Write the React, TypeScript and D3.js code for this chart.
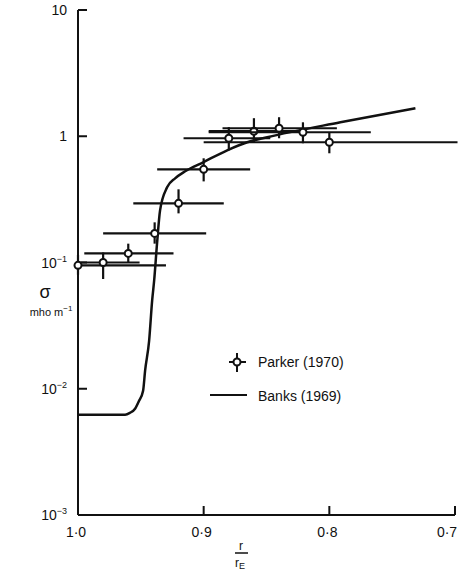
import React from 'react';
import * as d3 from 'd3';

// Parker (1970) measurements: r/rE, sigma, and error bar extents
const parkerR = [1.0, 0.98, 0.96, 0.939, 0.92, 0.9, 0.88, 0.86, 0.84, 0.821, 0.8];
const parkerSigma = [0.095, 0.1, 0.118, 0.17, 0.294, 0.547, 0.964, 1.096, 1.157, 1.076, 0.896];
const parkerSigmaHi = [0.115, 0.12, 0.141, 0.208, 0.38, 0.669, 1.18, 1.39, 1.415, 1.29, 1.076];
const parkerSigmaLo = [0.08, 0.074, 0.1, 0.141, 0.245, 0.439, 0.774, 0.896, 0.964, 0.88, 0.733];
const parkerRHi = [1.0, 0.998, 0.995, 0.98, 0.956, 0.937, 0.916, 0.896, 0.885, 0.896, 0.9];
const parkerRLo = [0.93, 0.951, 0.924, 0.898, 0.884, 0.863, 0.847, 0.823, 0.794, 0.767, 0.698];

// Banks (1969) model curve
const banksR = [1.0, 0.9625, 0.9586, 0.9546, 0.9514, 0.9482, 0.9466, 0.9434, 0.941, 0.9394, 0.9371,
  0.9347, 0.9291, 0.9227, 0.9147, 0.9004, 0.8813, 0.8653, 0.8494, 0.7912, 0.7315];
const banksSigma = [0.00622, 0.00622, 0.00645, 0.00694, 0.00803, 0.00964, 0.0139, 0.024, 0.0499, 0.072, 0.1416,
  0.259, 0.394, 0.464, 0.528, 0.622, 0.774, 0.896, 0.982, 1.29, 1.668];

const yTicks = [10, 1, 0.1, 0.01];
const yLabels = [
  { v: 10, base: '10', exp: '' },
  { v: 1, base: '1', exp: '' },
  { v: 0.1, base: '10', exp: '-1' },
  { v: 0.01, base: '10', exp: '-2' },
  { v: 0.001, base: '10', exp: '-3' },
];
const xTicks = [0.9, 0.8, 0.7];
const xLabels = [
  { v: 1.0, t: '1·0' },
  { v: 0.9, t: '0·9' },
  { v: 0.8, t: '0·8' },
  { v: 0.7, t: '0·7' },
];

const W = 458;
const H = 575;
const font = 'Liberation Sans, DejaVu Sans, sans-serif';
const ink = '#111';

export default function App() {
  const x = d3.scaleLinear().domain([1.0, 0.7]).range([78, 455]);
  const y = d3.scaleLog().domain([0.001, 10]).range([515, 10]);

  const line = d3.line<number>()
    .x((_, i) => x(banksR[i]))
    .y((_, i) => y(banksSigma[i]))
    .curve(d3.curveMonotoneX);

  const x0 = x(1.0);
  const y0 = y(0.001);

  return (
    <svg width={W} height={H} style={{ position: 'absolute', left: 0, top: 0, background: '#fff' }}
      fontFamily={font}>
      {/* axes */}
      <line x1={x0} y1={y(10)} x2={x0} y2={y0} stroke={ink} strokeWidth={2} />
      <line x1={x0} y1={y0} x2={x(0.7)} y2={y0} stroke={ink} strokeWidth={2} />
      {yTicks.map(v => (
        <line key={v} x1={x0} x2={x0 + 9} y1={y(v)} y2={y(v)} stroke={ink} strokeWidth={2} />
      ))}
      {xTicks.map(v => (
        <line key={v} x1={x(v)} x2={x(v)} y1={y0} y2={y0 - 9} stroke={ink} strokeWidth={2} />
      ))}
      {yLabels.map(d => (
        <text key={d.v} x={x0 - 11} y={y(d.v) + 5} textAnchor="end" fontSize={14} fill={ink}>
          {d.base}
          {d.exp && <tspan fontSize={9} dy={-6}>{d.exp.replace('-', '−')}</tspan>}
        </text>
      ))}
      {xLabels.map(d => (
        <text key={d.v} x={x(d.v) - (d.v === 0.7 ? 8 : 2)} y={y0 + 22} textAnchor="middle" fontSize={14} fill={ink}>
          {d.t}
        </text>
      ))}

      {/* axis titles */}
      <text x={45} y={298} textAnchor="middle" fontSize={18} fill={ink}>σ</text>
      <text x={51} y={316} textAnchor="middle" fontSize={11} fill={ink}>
        mho m<tspan fontSize={8} dy={-5}>−1</tspan>
      </text>
      <text x={241} y={550} textAnchor="middle" fontSize={12} fill={ink}>r</text>
      <line x1={235} x2={248} y1={553} y2={553} stroke={ink} strokeWidth={1.5} />
      <text x={240} y={567} textAnchor="middle" fontSize={12} fill={ink}>
        r<tspan fontSize={9} dy={2}>E</tspan>
      </text>

      {/* Banks curve */}
      <path d={line(banksR) ?? ''} fill="none" stroke={ink} strokeWidth={2.5} />

      {/* Parker points */}
      {parkerR.map((r, i) => (
        <g key={i}>
          <line x1={x(parkerRHi[i])} x2={x(parkerRLo[i])} y1={y(parkerSigma[i])} y2={y(parkerSigma[i])}
            stroke={ink} strokeWidth={2.2} />
          <line x1={x(r)} x2={x(r)} y1={y(parkerSigmaHi[i])} y2={y(parkerSigmaLo[i])}
            stroke={ink} strokeWidth={2.2} />
          <circle cx={x(r)} cy={y(parkerSigma[i])} r={3.5} fill="#fff" stroke={ink} strokeWidth={2} />
        </g>
      ))}

      {/* legend */}
      <line x1={229} x2={246} y1={362} y2={362} stroke={ink} strokeWidth={2} />
      <line x1={237} x2={237} y1={353} y2={372} stroke={ink} strokeWidth={2} />
      <circle cx={237} cy={362} r={3.5} fill="#fff" stroke={ink} strokeWidth={2} />
      <text x={258} y={367} fontSize={14} fill={ink}>Parker (1970)</text>
      <line x1={210} x2={247} y1={395} y2={395} stroke={ink} strokeWidth={2} />
      <text x={258} y={401} fontSize={14} fill={ink}>Banks (1969)</text>
    </svg>
  );
}
